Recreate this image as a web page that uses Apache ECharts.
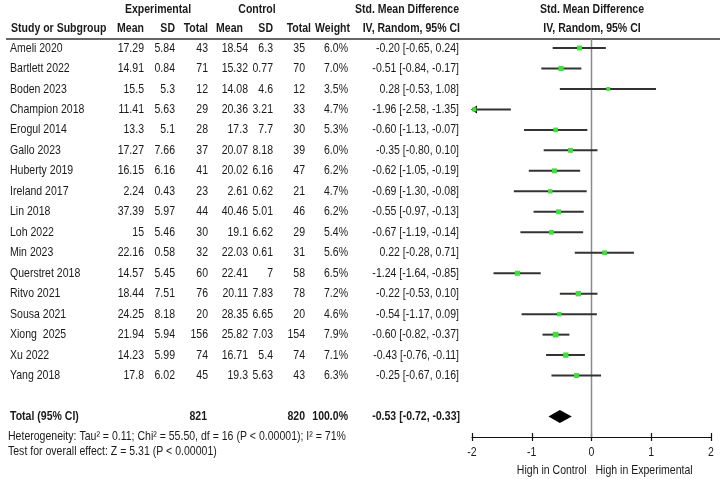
<!DOCTYPE html>
<html>
<head>
<meta charset="utf-8">
<script src="https://cdn.jsdelivr.net/npm/echarts@6/dist/echarts.min.js"></script>
<style>
  html,body{margin:0;padding:0;background:#fff;}
  #forest{width:725px;height:479px;}
</style>
</head>
<body>
<div id="forest"></div>
<script>
// 研究名称
var studies=['Ameli 2020','Bartlett 2022','Boden 2023','Champion 2018','Erogul 2014','Gallo 2023','Huberty 2019','Ireland 2017','Lin 2018','Loh 2022','Min 2023','Querstret 2018','Ritvo 2021','Sousa 2021','Xiong  2025','Xu 2022','Yang 2018'];
// Experimental
var expMean=[17.29,14.91,15.5,11.41,13.3,17.27,16.15,2.24,37.39,15,22.16,14.57,18.44,24.25,21.94,14.23,17.8];
var expSD=[5.84,0.84,5.3,5.63,5.1,7.66,6.16,0.43,5.97,5.46,0.58,5.45,7.51,8.18,5.94,5.99,6.02];
var expN=[43,71,12,29,28,37,41,23,44,30,32,60,76,20,156,74,45];
// Control
var ctrlMean=[18.54,15.32,14.08,20.36,17.3,20.07,20.02,2.61,40.46,19.1,22.03,22.41,20.11,28.35,25.82,16.71,19.3];
var ctrlSD=[6.3,0.77,4.6,3.21,7.7,8.18,6.16,0.62,5.01,6.62,0.61,7,7.83,6.65,7.03,5.4,5.63];
var ctrlN=[35,70,12,33,30,39,47,21,46,29,31,58,78,20,154,74,43];
// 权重 %
var weight=[6.0,7.0,3.5,4.7,5.3,6.0,6.2,4.7,6.2,5.4,5.6,6.5,7.2,4.6,7.9,7.1,6.3];
// SMD 及 95% CI
var smd=[-0.20,-0.51,0.28,-1.96,-0.60,-0.35,-0.62,-0.69,-0.55,-0.67,0.22,-1.24,-0.22,-0.54,-0.60,-0.43,-0.25];
var ciLo=[-0.65,-0.84,-0.53,-2.58,-1.13,-0.80,-1.05,-1.30,-0.97,-1.19,-0.28,-1.64,-0.53,-1.17,-0.82,-0.76,-0.67];
var ciHi=[0.24,-0.17,1.08,-1.35,-0.07,0.10,-0.19,-0.08,-0.13,-0.14,0.71,-0.85,0.10,0.09,-0.37,-0.11,0.16];
// 合并结果
var pooled=[-0.53,-0.72,-0.33];
var totalExp=821, totalCtrl=820, totalRow=18;
var xTicks=[-2,-1,0,1,2];

var FONT='"Liberation Sans",Arial,sans-serif';
var TXT='#1a1a1a';
var NARROW=0.81; // 模拟 Arial Narrow

var chart=echarts.init(document.getElementById('forest'));

var forestData=studies.map(function(s,i){return [smd[i],ciLo[i],ciHi[i],i,weight[i]];});

chart.setOption({
  animation:false,
  grid:{left:472,width:239,top:39,bottom:42},
  xAxis:[{
    type:'value',min:xTicks[0],max:xTicks[xTicks.length-1],interval:1,
    axisLine:{onZero:false,lineStyle:{color:'#111',width:1.2}},
    axisTick:{length:4,lineStyle:{color:'#111',width:1.2}},
    axisLabel:{show:false},
    splitLine:{show:false}
  },{
    type:'value',min:xTicks[0],max:xTicks[xTicks.length-1],interval:1,position:'bottom',
    axisLine:{show:false,onZero:false},
    axisTick:{inside:true,length:4,lineStyle:{color:'#111',width:1.2}},
    axisLabel:{show:false},splitLine:{show:false}
  }],
  yAxis:{type:'value',inverse:true,min:-0.44,max:19,show:false},
  series:[
    {
      // 零线
      type:'line',data:[[0,-0.44],[0,19]],symbol:'none',silent:true,
      lineStyle:{color:'#8a8a8a',width:1.5},z:1
    },
    {
      type:'custom',data:forestData,z:3,
      renderItem:function(params,api){
        var est=api.value(0),lo=api.value(1),hi=api.value(2),row=api.value(3),w=api.value(4);
        var clipLo=Math.max(lo,-2),clipHi=Math.min(hi,2);
        var p1=api.coord([clipLo,row]),p2=api.coord([clipHi,row]),pc=api.coord([est,row]);
        var sz=2.5+w*0.4;
        var kids=[{
          type:'line',shape:{x1:p1[0],y1:p1[1],x2:p2[0],y2:p2[1]},
          style:{stroke:'#333',lineWidth:2}
        }];
        if(lo<-2){
          kids.push({type:'polygon',shape:{points:[[p1[0]-1,p1[1]],[p1[0]+5,p1[1]-4],[p1[0]+5,p1[1]+4]]},style:{fill:'#000'}});
        }
        kids.push({type:'rect',shape:{x:pc[0]-sz/2,y:pc[1]-sz/2,width:sz,height:sz},style:{fill:'#3ee03a'}});
        return {type:'group',children:kids};
      }
    },
    {
      // 合并菱形
      type:'custom',data:[[pooled[0],pooled[1],pooled[2],totalRow]],z:3,
      renderItem:function(params,api){
        var row=api.value(3);
        var l=api.coord([api.value(1),row]),r=api.coord([api.value(2),row]),c=api.coord([api.value(0),row]);
        return {type:'polygon',shape:{points:[[l[0],l[1]],[c[0],c[1]-6.5],[r[0],r[1]],[c[0],c[1]+6.5]]},style:{fill:'#000'}};
      }
    }
  ]
});

// 表格文字
function txt(s,x,y,align,bold){
  return {type:'text',x:x,y:y,scaleX:NARROW,silent:true,style:{text:String(s),fill:TXT,textAlign:align||'left',textVerticalAlign:'middle',
    font:(bold?'bold ':'')+'13px '+FONT}};
}
function ciStr(e,l,h){return e.toFixed(2)+' ['+l.toFixed(2)+', '+h.toFixed(2)+']';}

var g=[];
// 表头
g.push(txt('Experimental',158,9,'center',true));
g.push(txt('Control',257,9,'center',true));
g.push(txt('Std. Mean Difference',407,9,'center',true));
g.push(txt('Std. Mean Difference',592,9,'center',true));
g.push(txt('Study or Subgroup',11,28,'left',true));
g.push(txt('Mean',144,28,'right',true));
g.push(txt('SD',175,28,'right',true));
g.push(txt('Total',208,28,'right',true));
g.push(txt('Mean',243,28,'right',true));
g.push(txt('SD',273,28,'right',true));
g.push(txt('Total',311,28,'right',true));
g.push(txt('Weight',350,28,'right',true));
g.push(txt('IV, Random, 95% CI',460,28,'right',true));
g.push(txt('IV, Random, 95% CI',592,28,'center',true));
g.push({type:'line',shape:{x1:6,y1:39,x2:720,y2:39},style:{stroke:'#333',lineWidth:1.5},silent:true});

studies.forEach(function(s,i){
  var y=chart.convertToPixel({yAxisIndex:0},i);
  g.push(txt(s,10,y,'left'));
  g.push(txt(expMean[i],144,y,'right'));
  g.push(txt(expSD[i],175,y,'right'));
  g.push(txt(expN[i],208,y,'right'));
  g.push(txt(ctrlMean[i],248,y,'right'));
  g.push(txt(ctrlSD[i],273,y,'right'));
  g.push(txt(ctrlN[i],305,y,'right'));
  g.push(txt(weight[i].toFixed(1)+'%',348,y,'right'));
  g.push(txt(ciStr(smd[i],ciLo[i],ciHi[i]),459,y,'right'));
});

var ty=chart.convertToPixel({yAxisIndex:0},totalRow);
g.push(txt('Total (95% CI)',10,ty,'left',true));
g.push(txt(totalExp,207,ty,'right',true));
g.push(txt(totalCtrl,305,ty,'right',true));
g.push(txt('100.0%',348,ty,'right',true));
g.push(txt(ciStr(pooled[0],pooled[1],pooled[2]),460,ty,'right',true));
g.push(txt('Heterogeneity: Tau\u00b2 = 0.11; Chi\u00b2 = 55.50, df = 16 (P < 0.00001); I\u00b2 = 71%',8,436,'left'));
g.push(txt('Test for overall effect: Z = 5.31 (P < 0.00001)',8,451,'left'));

// 坐标刻度标签 (通过坐标轴换算位置)
xTicks.forEach(function(t){
  var px=chart.convertToPixel({xAxisIndex:0},t);
  g.push(txt(String(t),px,452,'center'));
});
var x0=chart.convertToPixel({xAxisIndex:0},0);
g.push(txt('High in Control',x0-5,470,'right'));
g.push(txt('High in Experimental',x0+4,470,'left'));

chart.setOption({graphic:{elements:g}});
</script>
</body>
</html>
